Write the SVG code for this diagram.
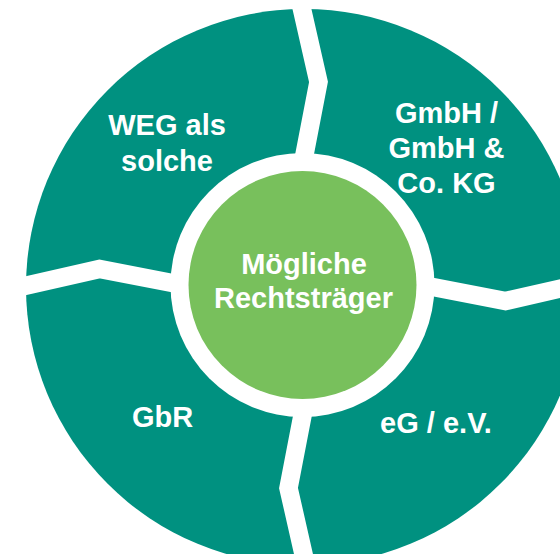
<svg xmlns="http://www.w3.org/2000/svg" width="560" height="554" viewBox="0 0 560 554">
  <style>
    .seg { fill: #009180; }
    .gap { fill: none; stroke: #ffffff; stroke-width: 18.5; stroke-linejoin: miter; stroke-miterlimit: 10; }
    .ring { fill: #ffffff; }
    .core { fill: #78C05C; }
    .lbl { font-family: "Liberation Sans", Arial, sans-serif; font-weight: bold; font-size: 29px; fill: #ffffff; text-anchor: middle; }
  </style>
  <defs>
    <path id="sep" d="M -6,-300 L 16,-203 L 0,-120"/>
  </defs>
  <rect x="0" y="0" width="560" height="554" fill="#ffffff"/>
  <g id="wheel">
    <circle class="seg" cx="304" cy="287" r="278"/>
  </g>
  <g id="connectors" transform="translate(302.5,285)">
    <use href="#sep" class="gap"/>
    <use href="#sep" class="gap" transform="rotate(90)"/>
    <use href="#sep" class="gap" transform="translate(2,0) rotate(180)"/>
    <use href="#sep" class="gap" transform="rotate(270)"/>
  </g>
  <g id="node-weg">
    <text class="lbl" x="167" y="135">WEG als</text>
    <text class="lbl" x="167" y="170.5">solche</text>
  </g>
  <g id="node-gmbh">
    <text class="lbl" x="446.5" y="123">GmbH /</text>
    <text class="lbl" x="446.5" y="158">GmbH &amp;</text>
    <text class="lbl" x="446.5" y="193">Co. KG</text>
  </g>
  <g id="node-gbr">
    <text class="lbl" x="162.5" y="427">GbR</text>
  </g>
  <g id="node-eg">
    <text class="lbl" x="436" y="433">eG / e.V.</text>
  </g>
  <g id="node-center">
    <circle class="ring" cx="302.5" cy="285" r="132"/>
    <circle class="core" cx="302.5" cy="285" r="114"/>
    <text class="lbl" x="304" y="274">Mögliche</text>
    <text class="lbl" x="303.5" y="308">Rechtsträger</text>
  </g>
</svg>
